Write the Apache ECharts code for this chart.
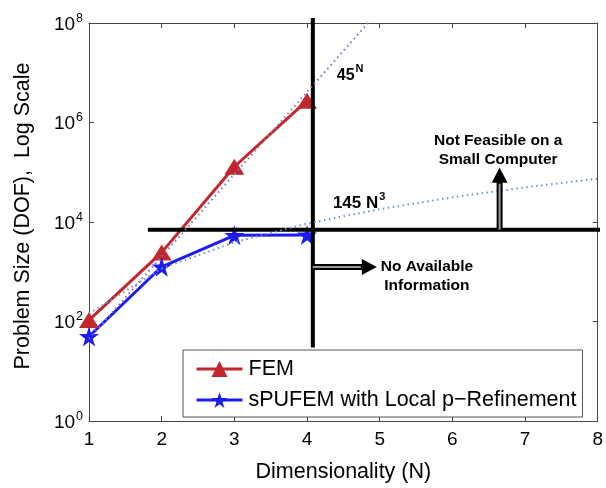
<!DOCTYPE html>
<html>
<head>
<meta charset="utf-8">
<script src="https://cdn.jsdelivr.net/npm/echarts@6/dist/echarts.min.js"></script>
<style>
html, body { margin: 0; padding: 0; background: #fff; }
#chart { width: 606px; height: 488px; }
</style>
</head>
<body>
<div id="chart"></div>
<script>
// Problem size versus dimensionality
const dims = [1, 2, 3, 4];
const femDof = [107, 2450, 129000, 2750000];
const spufemDof = [50, 1260, 5400, 5500];

// Reference growth curves: 45^N and 145 N^3
const expCurveN = [1, 2, 3, 4, 4.84];
const expCurveDof = [45, 2025, 91125, 4100625, 100400000];
const cubicCurveN = [1, 2, 3, 4, 5, 6, 7, 8];
const cubicCurveDof = [145, 1160, 3915, 9280, 18125, 31320, 49735, 74240];

// Boundaries of the known / feasible region
const dimLimitN = [4.08, 4.08];
const dimLimitDof = [30, 126000000];
const sizeLimitN = [1.81, 8.04];
const sizeLimitDof = [7000, 7000];

// Annotation arrows: [startN, startDof, endN, endDof]
const arrowNoInfo = [4.08, 1250, 4.96, 1250];
const arrowNotFeasible = [6.65, 7000, 6.65, 123000];

// Annotation texts and their anchor points
const noteNames = ['45^N', '145 N^3', 'Not Feasible on a\nSmall Computer', 'No Available\nInformation'];
const noteN = [4.41, 4.356, 6.63, 5.65];
const noteDof = [9800000, 26000, 280000, 800];

const FONT = 'Liberation Sans, Arial, Helvetica, sans-serif';
const INK = '#000';
const RED = '#c1272d';
const BLUE = '#1c1cf0';
const STAR = 'path://M50,0 L61.2,34.5 L97.6,34.5 L68.2,55.9 L79.4,90.5 L50,69.1 L20.6,90.5 L31.8,55.9 L2.4,34.5 L38.8,34.5 Z';

const zip = (xs, ys) => xs.map((x, i) => [x, ys[i]]);

const supRich = (size) => ({
  b: { fontSize: size, fontWeight: 'bold', fontFamily: FONT, color: INK, lineHeight: 20, verticalAlign: 'bottom' },
  s: { fontSize: 11, fontWeight: 'bold', fontFamily: FONT, color: INK, lineHeight: 20, verticalAlign: 'top', padding: [0, 0, 0, 1] }
});

const noteLabel = (i) => {
  const base = {
    show: true, fontFamily: FONT, fontWeight: 'bold', color: INK,
    opacity: 1, textBorderWidth: 0, textBorderColor: 'transparent'
  };
  if (i === 0) {
    return Object.assign(base, { position: 'right', distance: 0, formatter: '{b|45}{s|N}', rich: supRich(16) });
  }
  if (i === 1) {
    return Object.assign(base, { position: 'right', distance: 0, formatter: '{b|145 N}{s|3}', rich: supRich(17) });
  }
  return Object.assign(base, {
    position: 'inside', fontSize: 15.5, lineHeight: 19, align: 'center',
    formatter: noteNames[i]
  });
};

const chart = echarts.init(document.getElementById('chart'), null, { renderer: 'canvas' });

const axisLine = { show: true, lineStyle: { color: '#444', width: 1 } };
const axisTick = { show: true, inside: true, length: 5, lineStyle: { color: '#444', width: 1 } };

chart.setOption({
  animation: false,
  backgroundColor: '#fff',
  grid: { left: 89, right: 8, top: 23, bottom: 66, show: false },
  legend: {
    data: ['FEM', 'sPUFEM with Local p\u2212Refinement'],
    orient: 'vertical',
    left: 183, top: 350,
    padding: [8, 6, 6, 12],
    itemGap: 9,
    itemWidth: 46,
    itemHeight: 20,
    backgroundColor: '#fff',
    borderColor: '#555',
    borderWidth: 1,
    borderRadius: 0,
    lineStyle: { width: 3 },
    textStyle: { fontFamily: FONT, fontSize: 21.5, color: INK, padding: [0, 0, 0, 1] }
  },
  xAxis: [
    {
      type: 'value', min: 1, max: 8, interval: 1, position: 'bottom',
      name: 'Dimensionality (N)', nameLocation: 'middle', nameGap: 40,
      nameTextStyle: { fontFamily: FONT, fontSize: 21.5, color: INK },
      axisLine, axisTick,
      axisLabel: { fontFamily: FONT, fontSize: 19, color: INK, margin: 9 },
      splitLine: { show: false }
    },
    {
      type: 'value', min: 1, max: 8, interval: 1, position: 'top',
      axisLine, axisTick, axisLabel: { show: false }, splitLine: { show: false }
    }
  ],
  yAxis: [
    {
      type: 'log', logBase: 10, min: 1, max: 1e8, interval: 2, position: 'left',
      name: 'Problem Size (DOF),  Log Scale', nameLocation: 'middle', nameGap: 55,
      nameTextStyle: { fontFamily: FONT, fontSize: 21.5, color: INK, padding: [0, 0, 0, 12] },
      axisLine, axisTick,
      axisLabel: {
        margin: 6,
        formatter: (v) => '{b|10}{s|' + Math.round(Math.log10(v)) + '}',
        rich: {
          b: { fontFamily: FONT, fontSize: 19, color: INK, lineHeight: 22, verticalAlign: 'bottom' },
          s: { fontFamily: FONT, fontSize: 12.5, color: INK, lineHeight: 22, verticalAlign: 'top', padding: [0, 0, 0, 1] }
        }
      },
      splitLine: { show: false }
    },
    {
      type: 'log', logBase: 10, min: 1, max: 1e8, interval: 2, position: 'right',
      axisLine, axisTick, axisLabel: { show: false }, splitLine: { show: false }
    }
  ],
  series: [
    {
      name: 'FEM', type: 'line', data: zip(dims, femDof), z: 3,
      lineStyle: { color: RED, width: 3 }, itemStyle: { color: RED },
      symbol: 'triangle', symbolSize: [20, 16], showAllSymbol: true
    },
    {
      name: 'sPUFEM with Local p\u2212Refinement', type: 'line', data: zip(dims, spufemDof), z: 3,
      lineStyle: { color: BLUE, width: 3 }, itemStyle: { color: BLUE },
      symbol: STAR, symbolSize: 20, showAllSymbol: true
    },
    {
      name: 'limitN', type: 'line', data: zip(dimLimitN, dimLimitDof), clip: false, z: 4,
      symbol: 'none', lineStyle: { color: '#000', width: 4 }
    },
    {
      name: 'limitSize', type: 'line', data: zip(sizeLimitN, sizeLimitDof), clip: false, z: 4,
      symbol: 'none', lineStyle: { color: '#000', width: 4 }
    },
    {
      name: 'exp', type: 'line', data: zip(expCurveN, expCurveDof), z: 5,
      symbol: 'none', lineStyle: { color: '#8a70c0', width: 2, type: [1.5, 3.5] }
    },
    {
      name: 'cubic', type: 'line', data: zip(cubicCurveN, cubicCurveDof), z: 5,
      symbol: 'none', lineStyle: { color: '#6f96c2', width: 2, type: [1.5, 3.5] }
    },
    {
      name: 'arrows', type: 'custom', z: 6, clip: false,
      encode: { x: [0, 2], y: [1, 3] },
      data: [arrowNoInfo, arrowNotFeasible],
      renderItem: (params, api) => {
        const p0 = api.coord([api.value(0), api.value(1)]);
        const p1 = api.coord([api.value(2), api.value(3)]);
        const dx = p1[0] - p0[0], dy = p1[1] - p0[1];
        const len = Math.hypot(dx, dy);
        const ux = dx / len, uy = dy / len;
        const head = 15, half = 8;
        const b = [p1[0] - ux * head, p1[1] - uy * head];
        const nx = -uy, ny = ux;
        return {
          type: 'group',
          children: [
            { type: 'line', shape: { x1: p0[0], y1: p0[1], x2: b[0] + ux, y2: b[1] + uy },
              style: { stroke: '#000', lineWidth: 6 } },
            { type: 'line', shape: { x1: p0[0], y1: p0[1], x2: b[0] - ux, y2: b[1] - uy },
              style: { stroke: '#9a9a9a', lineWidth: 2 } },
            { type: 'polygon',
              shape: { points: [p1, [b[0] + nx * half, b[1] + ny * half], [b[0] - nx * half, b[1] - ny * half]] },
              style: { fill: '#000' } }
          ]
        };
      }
    },
    {
      name: 'notes', type: 'scatter', z: 7, symbolSize: 0, silent: true,
      itemStyle: { opacity: 1 },
      data: noteNames.map((t, i) => ({ value: [noteN[i], noteDof[i]], label: noteLabel(i) }))
    }
  ]
});
</script>
</body>
</html>
